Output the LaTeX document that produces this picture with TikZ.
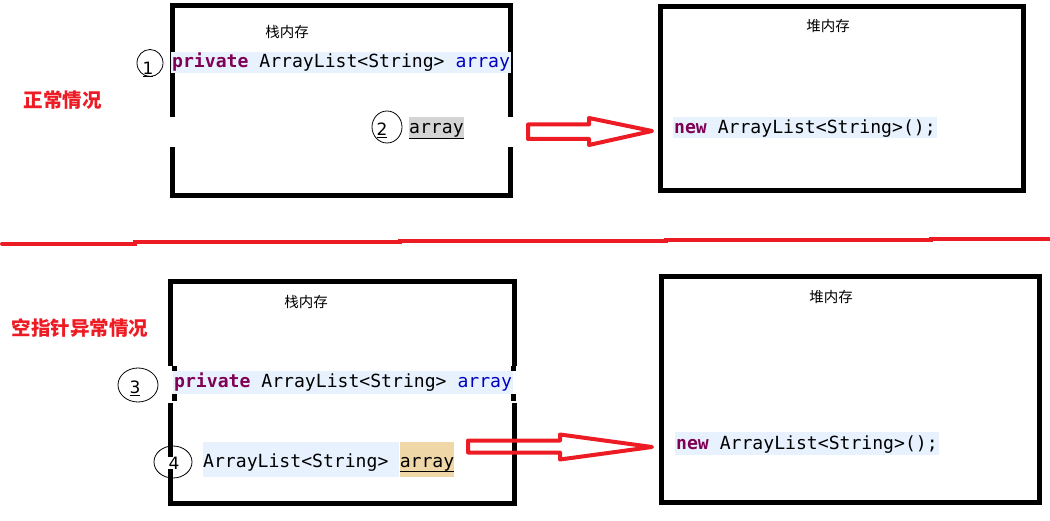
\documentclass[tikz,border=0pt]{standalone}
\usetikzlibrary{shapes.geometric}
\usepackage{fontspec}
\setmonofont{DejaVu Sans Mono}
\newfontfamily\cjk{Noto Sans CJK SC}
\newfontfamily\digitfont{DejaVu Sans}
\definecolor{stripblue}{HTML}{E8F2FE}
\definecolor{kwpurple}{HTML}{7F0055}
\definecolor{varblue}{HTML}{0000C0}
\definecolor{selgray}{HTML}{D4D4D4}
\definecolor{seltan}{HTML}{EFD7A7}
\definecolor{mark}{HTML}{ED1C24}
\newcommand\kwd[1]{{\color{kwpurple}\bfseries #1}}
\newcommand\vard[1]{{\color{varblue}#1}}
\begin{document}
\begin{tikzpicture}[x=1pt,y=-1pt,
  membox/.style={draw=black, line width=5pt, inner sep=0pt},
  gapfill/.style={fill=white, draw=none, inner sep=0pt},
  codestrip/.style={fill=stripblue, inner xsep=1pt, inner ysep=0pt, minimum height=21pt,
     text height=14pt, text depth=3pt, anchor=west,
     font=\ttfamily\fontsize{18.1}{20}\selectfont},
  memlabel/.style={font=\cjk\fontsize{14.5}{16}\selectfont, inner sep=0pt},
  title/.style={font=\cjk\bfseries\fontsize{19.5}{22}\selectfont, text=mark, inner sep=0pt},
  numring/.style={draw=black, line width=0.8pt, ellipse, inner sep=0pt},
  numtext/.style={font=\digitfont\fontsize{17}{18}\selectfont, inner sep=0pt, anchor=base},
  blockarrow/.style={draw=mark, line width=4pt, line join=round},
  sepline/.style={draw=mark, line width=4pt, line cap=round}
]
\useasboundingbox (0,0) rectangle (1050,521);

% ---------- top half ----------
\node[membox, minimum width=338pt, minimum height=189.5pt] (stackA) at (341.5,100.75) {};
\node[gapfill, minimum width=10pt, minimum height=30pt] (gapAL) at (172.5,132) {};
\node[gapfill, minimum width=10pt, minimum height=30pt] (gapAR) at (510.5,132) {};
\node[memlabel] (stackAlbl) at (287,32) {栈内存};
\node[codestrip] (codeA) at (171,62.5) {\kwd{private} ArrayList<String> \vard{array}};
\node[codestrip, fill=selgray, inner xsep=0pt, minimum height=22pt] (refA) at (409,128) {array};
\draw[line width=1.3pt] ([yshift=0.7pt]refA.south west) -- ([yshift=0.7pt]refA.south east);

\node[membox, minimum width=363pt, minimum height=184.5pt] (heapA) at (842,98.75) {};
\node[memlabel] (heapAlbl) at (828,26) {堆内存};
\node[codestrip] (newA) at (673,128) {\kwd{new} ArrayList<String>();};

\node[title] (titleA) at (62.5,100.5) {正常情况};

% circled numbers
\node[numring, minimum width=26pt, minimum height=27pt] (ringA) at (150,63) {};
\node[numtext] (numA) at (148,75) {\underline{1}};
\node[numring, minimum width=30pt, minimum height=32pt] (ringB) at (387,127) {};
\node[numtext] (numB) at (382,136) {\underline{2}};

% arrow top
\coordinate (arrA) at (528,131);
\draw[blockarrow] (arrA) ++(0,-6.5) -- ++(61,0) -- ++(0,-6.5) -- (652,131) -- (589,145) -- ++(0,-6) -- ++(-61,0) -- cycle;

% ---------- separator ----------
\coordinate (sepL) at (2,243.7);
\coordinate (sepR) at (1049,239.5);
\draw[sepline] (sepL) -- (135,243.7) -- (135,242.5) -- (400,242.5) -- (400,241.5)
  -- (666,241.5) -- (666,240.5) -- (931,240.5) -- (931,239.5) -- (sepR);

% ---------- bottom half ----------
\node[membox, minimum width=344.5pt, minimum height=221pt] (stackB) at (342.25,392.5) {};
\node[gapfill, minimum width=10pt, minimum height=37pt] (gapBL) at (170,384.5) {};
\node[gapfill, minimum width=10pt, minimum height=37pt] (gapBR) at (514.5,384.5) {};
\fill (172,366) rectangle (177,371);
\fill (172,394) rectangle (177,401);
\fill (511,366) rectangle (516,371);
\fill (511,394) rectangle (516,401);
\node[memlabel] (stackBlbl) at (306,302) {栈内存};
\node[codestrip, minimum height=23pt] (codeB) at (173,382.5) {\kwd{private} ArrayList<String> \vard{array}};
\node[codestrip, inner xsep=0pt, minimum height=35pt, text height=20pt, text depth=4pt] (declB) at (203,459.5) {ArrayList<String>\hphantom{x}};
\node[codestrip, fill=seltan, inner xsep=0pt, minimum height=35pt, text height=20pt, text depth=4pt, anchor=west] (refB) at (declB.east) {array};
\draw[line width=1.3pt] ([yshift=6pt]refB.south west) -- ([yshift=6pt]refB.south east);

\node[membox, minimum width=377.5pt, minimum height=226pt] (heapB) at (850.25,389.5) {};
\node[memlabel] (heapBlbl) at (831,297) {堆内存};
\node[codestrip, minimum height=23pt] (newB) at (675,443.5) {\kwd{new} ArrayList<String>();};

\node[title] (titleB) at (80,328) {空指针异常情况};

\node[numring, minimum width=40pt, minimum height=34pt] (ringC) at (138,385) {};
\node[numtext] (numC) at (135,394) {\underline{3}};
\node[numring, minimum width=38pt, minimum height=32pt] (ringD) at (173,462) {};
\node[numtext, fill=white, inner xsep=1pt] (numD) at (174,469) {4};

% arrow bottom
\coordinate (arrB) at (468,446.5);
\draw[blockarrow] (arrB) ++(0,-6) -- ++(92,0) -- ++(0,-6) -- (652,447) -- (560,459.5) -- ++(0,-7) -- ++(-92,0) -- cycle;
\end{tikzpicture}
\end{document}
